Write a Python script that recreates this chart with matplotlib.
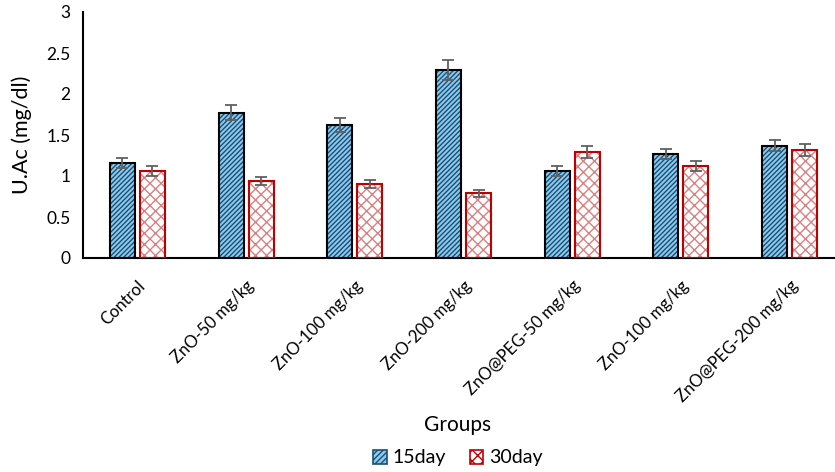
import matplotlib
matplotlib.use("Agg")
import matplotlib.pyplot as plt
import numpy as np
from matplotlib.patches import Patch

plt.rcParams['font.family'] = ['Lato', 'DejaVu Sans']
plt.rcParams['hatch.linewidth'] = 1.0

groups = ["Control", "ZnO-50 mg/kg", "ZnO-100 mg/kg", "ZnO-200 mg/kg",
          "ZnO@PEG-50 mg/kg", "ZnO-100 mg/kg", "ZnO@PEG-200 mg/kg"]
day15 = [1.16, 1.77, 1.62, 2.29, 1.06, 1.27, 1.37]
day15_err = [0.06, 0.09, 0.085, 0.12, 0.06, 0.06, 0.07]
day30 = [1.06, 0.94, 0.90, 0.79, 1.29, 1.12, 1.32]
day30_err = [0.06, 0.05, 0.05, 0.04, 0.07, 0.06, 0.07]
yticks = [0, 0.5, 1, 1.5, 2, 2.5, 3]
ytick_labels = ["0", "0.5", "1", "1.5", "2", "2.5", "3"]

fig = plt.figure(figsize=(8.35, 4.72), dpi=100)
ax = fig.add_axes([83/835, 214/472, 761/835, 246/472])

x = np.arange(len(groups))
w = 0.23
off = 0.138

# 15day bars: light blue with dark stripes, black outline
ax.bar(x - off, day15, w, color='#8ccbec', edgecolor='#1b4f78', hatch='///////', linewidth=0, zorder=2)
ax.bar(x - off, day15, w, fill=False, edgecolor='black', linewidth=1.5, zorder=3)
# 30day bars: white with red pattern, red outline
ax.bar(x + off, day30, w, color='white', edgecolor='#d98080', hatch='xxx', linewidth=0, zorder=2)
ax.bar(x + off, day30, w, fill=False, edgecolor='#c00000', linewidth=1.5, zorder=3)

ax.errorbar(x - off, day15, yerr=day15_err, fmt='none', ecolor='#606060', elinewidth=1.3, capsize=4.5, capthick=1.3, zorder=4)
ax.errorbar(x + off, day30, yerr=day30_err, fmt='none', ecolor='#606060', elinewidth=1.3, capsize=4.5, capthick=1.3, zorder=4)

ax.set_xlim(-0.5, len(groups) - 0.5)
ax.set_ylim(0, 3)
ax.set_yticks(yticks)
ax.set_yticklabels(ytick_labels, fontsize=12.5)
ax.set_xticks(x)
ax.set_xticklabels(groups, rotation=45, ha='right', rotation_mode='anchor', fontsize=12)
ax.tick_params(axis='y', length=0, pad=9)
ax.tick_params(axis='x', length=0, pad=14)
for s in ['top', 'right']:
    ax.spines[s].set_visible(False)
for s in ['left', 'bottom']:
    ax.spines[s].set_linewidth(1.5)
    ax.spines[s].set_color('black')

ax.set_ylabel("U.Ac (mg/dl)", fontsize=15.5, labelpad=10)
fig.text(458/835, 1 - 425/472, "Groups", ha='center', va='center', fontsize=15)

handles = [Patch(facecolor='#8ccbec', edgecolor='#1b4f78', hatch='//////', linewidth=1.2),
           Patch(facecolor='white', edgecolor='#c00000', hatch='xxx', linewidth=1.2)]
fig.legend(handles, ["15day", "30day"], loc='center', bbox_to_anchor=(458/835, 1 - 458/472),
           ncol=2, frameon=False, fontsize=14, handlelength=0.7, handleheight=0.7,
           handletextpad=0.3, columnspacing=1.2)

fig.savefig("out.png", dpi=100)
